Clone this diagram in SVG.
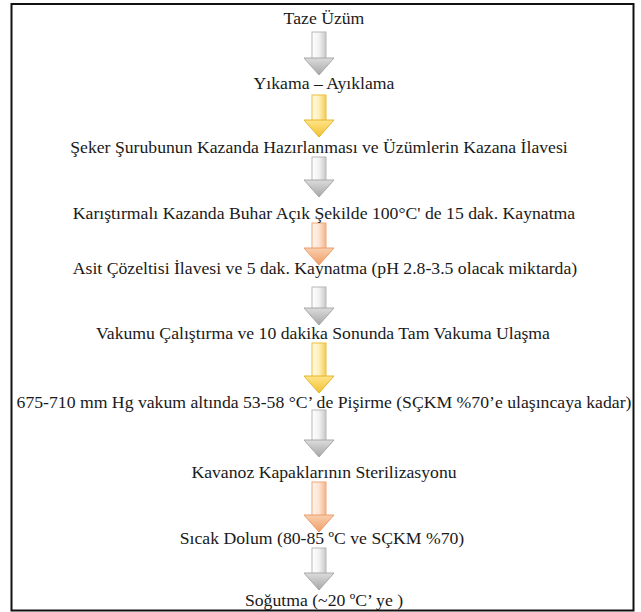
<svg xmlns="http://www.w3.org/2000/svg" width="641" height="612" viewBox="0 0 641 612">
<style>
.t{font-size:17.7px;fill:#1a1a1a;text-anchor:middle}
.gs{fill:url(#gShaft);stroke:#b8b8b8;stroke-width:1}
.gh{fill:url(#gHead);stroke:#a8a8a8;stroke-width:1}
.ys{fill:url(#yShaft);stroke:#eebf3a;stroke-width:1}
.yh{fill:url(#yHead);stroke:#e6b42a;stroke-width:1}
.os{fill:url(#oShaft);stroke:#f0a878;stroke-width:1}
.oh{fill:url(#oHead);stroke:#eb9c6a;stroke-width:1}
</style>
<defs>
<linearGradient id="gShaft" x1="0" y1="0" x2="1" y2="0"><stop offset="0" stop-color="#ffffff"/><stop offset="0.5" stop-color="#f2f2f2"/><stop offset="1" stop-color="#c8c8c8"/></linearGradient>
<linearGradient id="gHead" x1="0" y1="0" x2="0" y2="1"><stop offset="0" stop-color="#dcdcdc"/><stop offset="1" stop-color="#a6a6a6"/></linearGradient>
<linearGradient id="yShaft" x1="0" y1="0" x2="1" y2="0"><stop offset="0" stop-color="#fffbe8"/><stop offset="0.5" stop-color="#fff0b8"/><stop offset="1" stop-color="#f4cc55"/></linearGradient>
<linearGradient id="yHead" x1="0" y1="0" x2="0" y2="1"><stop offset="0" stop-color="#ffe58a"/><stop offset="1" stop-color="#f0c030"/></linearGradient>
<linearGradient id="oShaft" x1="0" y1="0" x2="1" y2="0"><stop offset="0" stop-color="#fff6f0"/><stop offset="0.5" stop-color="#fde3d2"/><stop offset="1" stop-color="#f4b48a"/></linearGradient>
<linearGradient id="oHead" x1="0" y1="0" x2="0" y2="1"><stop offset="0" stop-color="#f9cfae"/><stop offset="1" stop-color="#ef9e68"/></linearGradient>
</defs>
<rect x="0" y="0" width="641" height="612" fill="#ffffff"/>
<rect x="11.5" y="4" width="622" height="606.5" fill="#ffffff" stroke="#111111" stroke-width="2"/>
<g id="connectors">
<g id="a1"><rect class="gs" x="312" y="32" width="14" height="27"/><polygon class="gh" points="304,58 334,58 319,75"/></g>
<g id="a2"><rect class="ys" x="312" y="95" width="14" height="26"/><polygon class="yh" points="304,120 334,120 319,137"/></g>
<g id="a3"><rect class="gs" x="312" y="157" width="14" height="24"/><polygon class="gh" points="304,180 334,180 319,197"/></g>
<g id="a4"><rect class="os" x="312" y="223" width="14" height="26"/><polygon class="oh" points="304,248 334,248 319,265"/></g>
<g id="a5"><rect class="gs" x="312" y="287" width="14" height="22"/><polygon class="gh" points="304,308 334,308 319,325"/></g>
<g id="a6"><rect class="ys" x="312" y="343" width="14" height="34"/><polygon class="yh" points="304,376 334,376 319,393"/></g>
<g id="a7"><rect class="gs" x="312" y="410" width="14" height="31"/><polygon class="gh" points="304,440 334,440 319,457"/></g>
<g id="a8"><rect class="os" x="312" y="482" width="14" height="34"/><polygon class="oh" points="304,515 334,515 319,532"/></g>
<g id="a9"><rect class="gs" x="312" y="548" width="14" height="26"/><polygon class="gh" points="304,573 334,573 319,590"/></g>
</g>
<g font-family="'Liberation Serif', 'Times New Roman', 'DejaVu Serif', serif">
<g id="n1"><text class="t" x="324" y="24">Taze Üzüm</text></g>
<g id="n2"><text class="t" x="324" y="89">Yıkama – Ayıklama</text></g>
<g id="n3"><text class="t" x="319" y="153">Şeker Şurubunun Kazanda Hazırlanması ve Üzümlerin Kazana İlavesi</text></g>
<g id="n4"><text class="t" x="324" y="219">Karıştırmalı Kazanda Buhar Açık Şekilde 100°C' de 15 dak. Kaynatma</text></g>
<g id="n5"><text class="t" x="325" y="274">Asit Çözeltisi İlavesi ve 5 dak. Kaynatma (pH 2.8-3.5 olacak miktarda)</text></g>
<g id="n6"><text class="t" x="323" y="339">Vakumu Çalıştırma ve 10 dakika Sonunda Tam Vakuma Ulaşma</text></g>
<g id="n7"><text class="t" x="324" y="408">675-710 mm Hg vakum altında 53-58 °C’ de Pişirme (SÇKM %70’e ulaşıncaya kadar)</text></g>
<g id="n8"><text class="t" x="324" y="478">Kavanoz Kapaklarının Sterilizasyonu</text></g>
<g id="n9"><text class="t" x="322" y="544">Sıcak Dolum (80-85 ºC ve SÇKM %70)</text></g>
<g id="n10"><text class="t" x="324" y="606">Soğutma (~20 ºC’ ye )</text></g>
</g>
</svg>
